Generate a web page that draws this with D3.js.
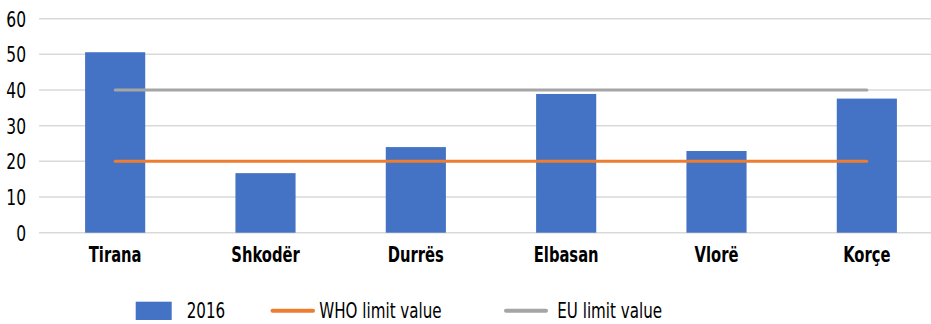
<!DOCTYPE html>
<html>
<head>
<meta charset="utf-8">
<script src="https://cdn.jsdelivr.net/npm/d3@7/dist/d3.min.js"></script>
<style>
  html, body { margin: 0; padding: 0; background: #fff; }
  svg { display: block; }
  text { font-family: "DejaVu Sans Condensed", "DejaVu Sans", sans-serif; fill: #000; }
</style>
</head>
<body>
<svg id="chart" width="931" height="324"></svg>
<script>
// Cities and their 2016 measured values
const cities = ["Tirana", "Shkodër", "Durrës", "Elbasan", "Vlorë", "Korçe"];
const values2016 = [50.6, 16.7, 24.0, 38.9, 22.9, 37.6];
// Reference limits, one value per city
const whoLimit = [20, 20, 20, 20, 20, 20];
const euLimit = [40, 40, 40, 40, 40, 40];
const yTicks = [0, 10, 20, 30, 40, 50, 60];
const legendLabels = ["2016", "WHO limit value", "EU limit value"];

const colors = { bar: "#4472C4", who: "#ED7D31", eu: "#A5A5A5", grid: "#D9D9D9" };
const FONT = "'DejaVu Sans Condensed', 'DejaVu Sans', sans-serif";

// Squeeze text horizontally to get a narrow, condensed look
function condense(sel, k) {
  sel.each(function () {
    const w = this.getComputedTextLength();
    d3.select(this)
      .attr("textLength", w * k)
      .attr("lengthAdjust", "spacingAndGlyphs");
  });
}

const svg = d3.select("#chart");

const x = d3.scaleBand()
  .domain(cities)
  .range([40, 942])
  .paddingInner(0.6)
  .paddingOuter(0.3);

const y = d3.scaleLinear()
  .domain([0, 60])
  .range([232.7, 18.7]);

// Horizontal gridlines
svg.append("g")
  .selectAll("line")
  .data(yTicks)
  .join("line")
  .attr("x1", 39)
  .attr("x2", 942)
  .attr("y1", d => y(d))
  .attr("y2", d => y(d))
  .attr("stroke", colors.grid)
  .attr("stroke-width", 1.5);

// Y axis labels
const yAxis = d3.axisLeft(y).tickValues(yTicks).tickSize(0).tickPadding(0);
const gy = svg.append("g").attr("transform", "translate(26,0)").call(yAxis);
gy.select(".domain").remove();
gy.selectAll("text")
  .attr("font-size", 21)
  .attr("dy", "0.36em")
  .style("font-family", FONT)
  .attr("fill", "#000")
  .call(condense, 0.82);

// Bars
svg.append("g")
  .selectAll("rect")
  .data(values2016)
  .join("rect")
  .attr("x", (d, i) => x(cities[i]))
  .attr("width", x.bandwidth())
  .attr("y", d => y(d))
  .attr("height", d => y(0) - y(d))
  .attr("fill", colors.bar);

// Limit lines through the category centres
const line = d3.line()
  .x((d, i) => x(cities[i]) + x.bandwidth() / 2)
  .y(d => y(d));

svg.append("path")
  .datum(whoLimit)
  .attr("d", line)
  .attr("fill", "none")
  .attr("stroke", colors.who)
  .attr("stroke-width", 3)
  .attr("stroke-linecap", "round");

svg.append("path")
  .datum(euLimit)
  .attr("d", line)
  .attr("fill", "none")
  .attr("stroke", colors.eu)
  .attr("stroke-width", 3)
  .attr("stroke-linecap", "round");

// Category labels
const xAxis = d3.axisBottom(x).tickSize(0).tickPadding(0);
const gx = svg.append("g").attr("transform", "translate(0,261.7)").call(xAxis);
gx.select(".domain").remove();
gx.selectAll("text")
  .attr("dy", 0)
  .attr("y", 0)
  .attr("font-size", 21)
  .attr("font-weight", "bold")
  .style("font-family", FONT)
  .attr("fill", "#000")
  .call(condense, 0.78);

// Legend
const legend = svg.append("g");
legend.append("rect")
  .attr("x", 135.7).attr("y", 301.7)
  .attr("width", 36).attr("height", 18.3)
  .attr("fill", colors.bar);
legend.append("line")
  .attr("x1", 272.5).attr("x2", 313)
  .attr("y1", 310.7).attr("y2", 310.7)
  .attr("stroke", colors.who).attr("stroke-width", 4)
  .attr("stroke-linecap", "round");
legend.append("line")
  .attr("x1", 506).attr("x2", 546)
  .attr("y1", 310.7).attr("y2", 310.7)
  .attr("stroke", colors.eu).attr("stroke-width", 4)
  .attr("stroke-linecap", "round");

const legendX = [186.7, 319.3, 557.3];
legend.selectAll("text")
  .data(legendLabels)
  .join("text")
  .attr("x", (d, i) => legendX[i])
  .attr("y", 318.3)
  .attr("font-size", 21)
  .text(d => d)
  .call(condense, 0.8);
</script>
</body>
</html>
